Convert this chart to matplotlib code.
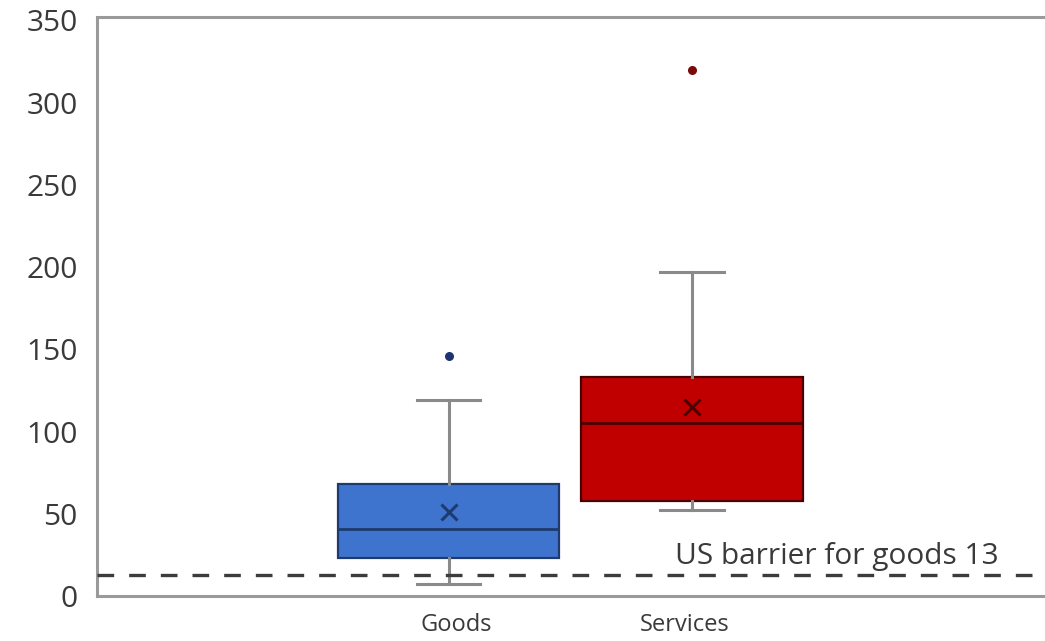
import matplotlib
matplotlib.use("Agg")
import matplotlib.pyplot as plt

# Data
categories = ["Goods", "Services"]
whisker_low = [7, 52]
q1 = [23, 58]
median = [41, 105]
q3 = [68, 133]
whisker_high = [119, 197]
means = [51, 115]
outliers = [[146], [320]]
us_barrier = 13
y_ticks = [0, 50, 100, 150, 200, 250, 300, 350]

fill_colors = ["#3F74CE", "#C00000"]
edge_colors = ["#1F3A6E", "#4A0000"]
outlier_colors = ["#1F3370", "#7A0A0A"]

W, H = 1045, 641
fig = plt.figure(figsize=(W / 100, H / 100), dpi=100)
ax = fig.add_axes([97 / W, (641 - 596) / H, (1070 - 97) / W, (596 - 17) / H])

stats = []
for i, c in enumerate(categories):
    stats.append(dict(label=c, whislo=whisker_low[i], q1=q1[i], med=median[i],
                      q3=q3[i], whishi=whisker_high[i], mean=means[i], fliers=[]))

positions = [1, 2]
bp = ax.bxp(stats, positions=positions, widths=0.91, patch_artist=True,
            showmeans=True, showfliers=False, manage_ticks=False,
            meanprops=dict(marker="x", markersize=11, markeredgewidth=2.2),
            whiskerprops=dict(color="#8A8A8A", linewidth=2.2),
            capprops=dict(color="#8A8A8A", linewidth=2.2),
            medianprops=dict(linewidth=2))
for i, box in enumerate(bp["boxes"]):
    box.set_facecolor(fill_colors[i])
    box.set_edgecolor(edge_colors[i])
    box.set_linewidth(1.6)
    bp["medians"][i].set_color(edge_colors[i])
    bp["means"][i].set_markeredgecolor(edge_colors[i])
for cap in bp["caps"]:
    xd = cap.get_xdata()
    mid = (xd[0] + xd[1]) / 2
    cap.set_xdata([mid - 0.13, mid + 0.13])

for i, pts in enumerate(outliers):
    ax.scatter([positions[i]] * len(pts), pts, s=30, color=outlier_colors[i], zorder=5)

ax.axhline(us_barrier, color="#3C3C3C", linewidth=2.4, linestyle=(0, (5, 4.5)), zorder=4)
ax.text(1.93, us_barrier + 2, "US barrier for goods 13", fontsize=21.5,
        family="Open Sans", color="#3A3A3A", ha="left", va="bottom")

ax.set_xlim(-0.4436, -0.4436 + (1070 - 97) / 243.5)
ax.set_ylim(0, 352)
ax.set_yticks(y_ticks)
ax.set_yticklabels([str(v) for v in y_ticks], fontsize=21.5, family="Open Sans", color="#3A3A3A")
ax.tick_params(axis="y", length=0, pad=14)
ax.set_xticks([1.03, 1.97])
ax.set_xticklabels(categories, fontsize=17, family="Open Sans", color="#3A3A3A")
ax.tick_params(axis="x", length=0, pad=12)

for s in ["left", "bottom", "top"]:
    ax.spines[s].set_color("#9A9A9A")
    ax.spines[s].set_linewidth(2.2)
ax.spines["right"].set_visible(False)

fig.savefig("out.png", dpi=100)
